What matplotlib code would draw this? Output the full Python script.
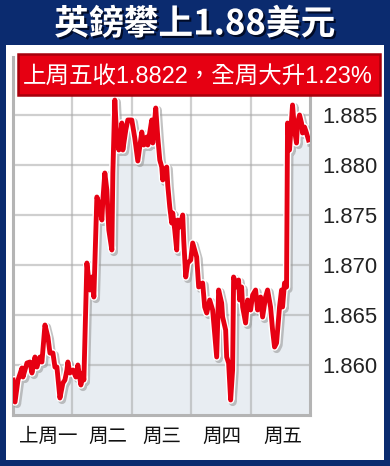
import matplotlib
matplotlib.use("Agg")
import matplotlib.pyplot as plt
import matplotlib.patheffects as pe
from matplotlib.patches import Rectangle

# ---- data ----
title = "英鎊攀上1.88美元"
subtitle = "上周五收1.8822，全周大升1.23%"
day_labels = ["上周一", "周二", "周三", "周四", "周五"]
y_ticks = [1.860, 1.865, 1.870, 1.875, 1.880, 1.885]

# time in trading days since Monday open
times = [0.000, 0.034, 0.084, 0.151, 0.168, 0.235, 0.286, 0.319, 0.370, 0.403,
         0.454, 0.487, 0.538, 0.588, 0.622, 0.672, 0.706, 0.739, 0.790, 0.840,
         0.874, 0.908, 0.924, 0.958, 1.008, 1.059, 1.092, 1.143, 1.176, 1.193,
         1.244, 1.294, 1.328, 1.361, 1.412, 1.445, 1.496, 1.513, 1.546, 1.580,
         1.613, 1.664, 1.681, 1.714, 1.748, 1.782, 1.832, 1.849, 1.899, 1.933,
         2.000, 2.050, 2.101, 2.168, 2.202, 2.252, 2.269, 2.336, 2.353, 2.403,
         2.437, 2.471, 2.504, 2.521, 2.555, 2.588, 2.605, 2.639, 2.672, 2.689,
         2.723, 2.756, 2.773, 2.807, 2.857, 2.874, 2.908, 2.941, 2.992, 3.025,
         3.092, 3.126, 3.193, 3.227, 3.261, 3.311, 3.361, 3.395, 3.429, 3.462,
         3.513, 3.529, 3.580, 3.597, 3.630, 3.664, 3.697, 3.714, 3.765, 3.798,
         3.815, 3.849, 3.866, 3.916, 3.950, 4.000, 4.034, 4.084, 4.118, 4.168,
         4.202, 4.252, 4.286, 4.336, 4.370, 4.403, 4.437, 4.487, 4.521, 4.538,
         4.571, 4.605, 4.622, 4.655, 4.689, 4.706, 4.739, 4.773, 4.790, 4.824,
         4.857, 4.874, 4.908, 4.941, 4.975]

rates = [1.8585, 1.8563, 1.8585, 1.8597, 1.8588, 1.8602, 1.8603, 1.8592, 1.8608, 1.8598,
         1.8608, 1.8603, 1.8640, 1.8628, 1.8612, 1.8612, 1.8598, 1.8598, 1.8567, 1.8582,
         1.8585, 1.8595, 1.8603, 1.8592, 1.8595, 1.8588, 1.8600, 1.8580, 1.8592, 1.8585,
         1.8702, 1.8675, 1.8688, 1.8668, 1.8768, 1.8762, 1.8745, 1.8765, 1.8792, 1.8775,
         1.8735, 1.8715, 1.8792, 1.8865, 1.8825, 1.8815, 1.8842, 1.8815, 1.8835, 1.8845,
         1.8845, 1.8827, 1.8804, 1.8833, 1.8820, 1.8828, 1.8820, 1.8845, 1.8822, 1.8857,
         1.8828, 1.8805, 1.8798, 1.8785, 1.8795, 1.8798, 1.8780, 1.8758, 1.8742, 1.8752,
         1.8735, 1.8715, 1.8745, 1.8738, 1.8750, 1.8725, 1.8688, 1.8702, 1.8705, 1.8722,
         1.8708, 1.8678, 1.8682, 1.8658, 1.8652, 1.8665, 1.8655, 1.8632, 1.8608, 1.8675,
         1.8662, 1.8648, 1.8635, 1.8608, 1.8602, 1.8565, 1.8595, 1.8688, 1.8678, 1.8685,
         1.8665, 1.8678, 1.8658, 1.8642, 1.8665, 1.8655, 1.8670, 1.8675, 1.8655, 1.8668,
         1.8648, 1.8668, 1.8675, 1.8658, 1.8635, 1.8618, 1.8622, 1.8658, 1.8675, 1.8658,
         1.8682, 1.8678, 1.8842, 1.8815, 1.8845, 1.8860, 1.8835, 1.8822, 1.8842, 1.8850,
         1.8842, 1.8832, 1.8838, 1.8832, 1.8825]

# ---- styling ----
NAVY = "#0b2b6f"
RED = "#e60012"
FILL = "#e8edf2"
W, H = 390, 466

plt.rcParams['font.family'] = ['Noto Sans CJK TC', 'DejaVu Sans']
MIXED = ['Liberation Sans', 'Noto Sans CJK TC']

fig = plt.figure(figsize=(W / 100, H / 100), dpi=100)
fig.patch.set_facecolor(NAVY)

# white panel
fig.patches.append(Rectangle((6 / W, 1 - 460 / H), (384 - 6) / W, (460 - 45) / H,
                             transform=fig.transFigure, facecolor="white",
                             edgecolor="none", zorder=-5))

# title
fig.text(0.5, 1 - 24 / H, title, ha="center", va="center", color="white",
         fontsize=25, fontweight="black", zorder=6,
         path_effects=[pe.withSimplePatchShadow(offset=(1.5, -1.5),
                                                shadow_rgbFace="#000820", alpha=0.9)])

# axes
ax_left, ax_right, ax_top, ax_bot = 13, 310, 57, 415
ax = fig.add_axes([ax_left / W, 1 - ax_bot / H, (ax_right - ax_left) / W,
                   (ax_bot - ax_top) / H])
ax.set_zorder(1)
ax.set_facecolor("white")
ymin, ymax = 1.855, 1.8908
ax.set_xlim(0, 5)
ax.set_ylim(ymin, ymax)

ax.fill_between(times, rates, ymin, color=FILL, zorder=1, lw=0)

for d in range(1, 5):
    ax.axvline(d, color="#a8a8a8", alpha=0.55, lw=1.6, zorder=2)
for t in y_ticks:
    ax.axhline(t, color="#a8a8a8", alpha=0.55, lw=1.6, zorder=2)

ax.plot(times, rates, color=RED, lw=3.5, zorder=4, solid_joinstyle="round",
        path_effects=[pe.SimpleLineShadow(offset=(1.5, -1.5), shadow_color="#9a9a9a",
                                          alpha=0.6, linewidth=5.8),
                      pe.Stroke(linewidth=5.5, foreground="white"),
                      pe.Normal()])

for side in ["left", "bottom", "right"]:
    ax.spines[side].set_color("#b4b4b4")
    ax.spines[side].set_linewidth(2.2)
ax.spines["top"].set_visible(False)

ax.yaxis.tick_right()
ax.set_yticks(y_ticks)
ax.set_yticklabels([f"{t:.3f}" for t in y_ticks], family="Liberation Sans",
                   fontsize=15.8, color="#222222")
ax.tick_params(axis="y", length=0, pad=9)

label_pos = [0.6, 1.6, 2.5, 3.52, 4.55]
ax.set_xticks(label_pos)
ax.set_xticklabels(day_labels, fontsize=14, color="#111111")
ax.tick_params(axis="x", length=0, pad=8)

# red subtitle box
fig.patches.append(Rectangle((18 / W, 1 - 95 / H), (380 - 18) / W, (95 - 54) / H,
                             transform=fig.transFigure, facecolor=RED,
                             edgecolor="#a8000c", lw=1.8, zorder=5))
fig.text(198 / W, 1 - 76 / H, subtitle, ha="center", va="center", color="white",
         fontsize=16.9, family=MIXED, zorder=6)

fig.savefig("out.png", dpi=100, facecolor=NAVY)
